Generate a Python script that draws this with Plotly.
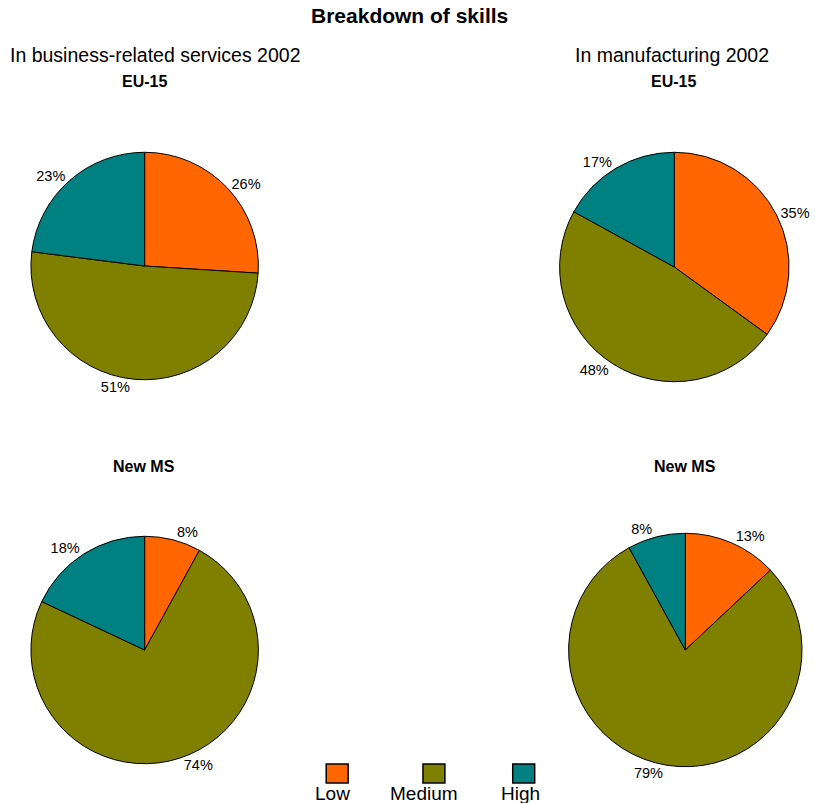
import plotly.graph_objects as go

W, H = 815, 803

skills = ["Low", "Medium", "High"]
colors = ["#FF6600", "#808000", "#008080"]

services_eu15 = [26, 51, 23]
manuf_eu15 = [35, 48, 17]
services_newms = [8, 74, 18]
manuf_newms = [13, 79, 8]

# (values, centre x px, centre y px, radius px)
panels = [
    (services_eu15, 145, 266, 114),
    (manuf_eu15, 676, 267, 115),
    (services_newms, 145, 650, 114),
    (manuf_newms, 687, 650, 117),
]

FONT = "Liberation Sans, Arial, sans-serif"

fig = go.Figure()
for vals, cx, cy, r in panels:
    fig.add_trace(go.Pie(
        labels=skills,
        values=vals,
        sort=False,
        direction="clockwise",
        rotation=0,
        marker=dict(colors=colors, line=dict(color="black", width=1)),
        texttemplate="%{value}%",
        textposition="outside",
        textfont=dict(family=FONT, size=14.5, color="black"),
        domain=dict(x=[(cx - r) / W, (cx + r) / W],
                    y=[1 - (cy + r) / H, 1 - (cy - r) / H]),
        showlegend=False,
        hoverinfo="label+value",
    ))

annotations = [
    dict(text="<b>Breakdown of skills</b>", x=411, y=16, font=dict(size=21)),
    dict(text="In business-related services 2002", x=156, y=55, font=dict(size=19.5)),
    dict(text="In manufacturing 2002", x=674, y=55, font=dict(size=19.5)),
    dict(text="<b>EU-15</b>", x=145, y=82, font=dict(size=16)),
    dict(text="<b>EU-15</b>", x=675, y=82, font=dict(size=16)),
    dict(text="<b>New MS</b>", x=144, y=466, font=dict(size=16)),
    dict(text="<b>New MS</b>", x=687, y=466, font=dict(size=16)),
]

# Legend: coloured boxes with the label beneath
legend_x = [338, 435, 525]
label_x = [333, 425, 522]
shapes = []
for name, col, lx, tx in zip(skills, colors, legend_x, label_x):
    shapes.append(dict(type="rect", xref="paper", yref="paper",
                       x0=(lx - 11) / W, x1=(lx + 11) / W,
                       y0=1 - 783 / H, y1=1 - 764 / H,
                       fillcolor=col, line=dict(color="black", width=1.5)))
    annotations.append(dict(text=name, x=tx, y=793, font=dict(size=19)))

for a in annotations:
    a.update(xref="paper", yref="paper", showarrow=False,
             xanchor="center", yanchor="middle")
    a["x"] = a["x"] / W
    a["y"] = 1 - a["y"] / H
    a["font"].update(family=FONT, color="black")

fig.update_layout(
    width=W, height=H,
    margin=dict(l=0, r=0, t=0, b=0),
    paper_bgcolor="white",
    plot_bgcolor="white",
    annotations=annotations,
    shapes=shapes,
    font=dict(family=FONT, color="black"),
)

fig.write_html("out.html")
